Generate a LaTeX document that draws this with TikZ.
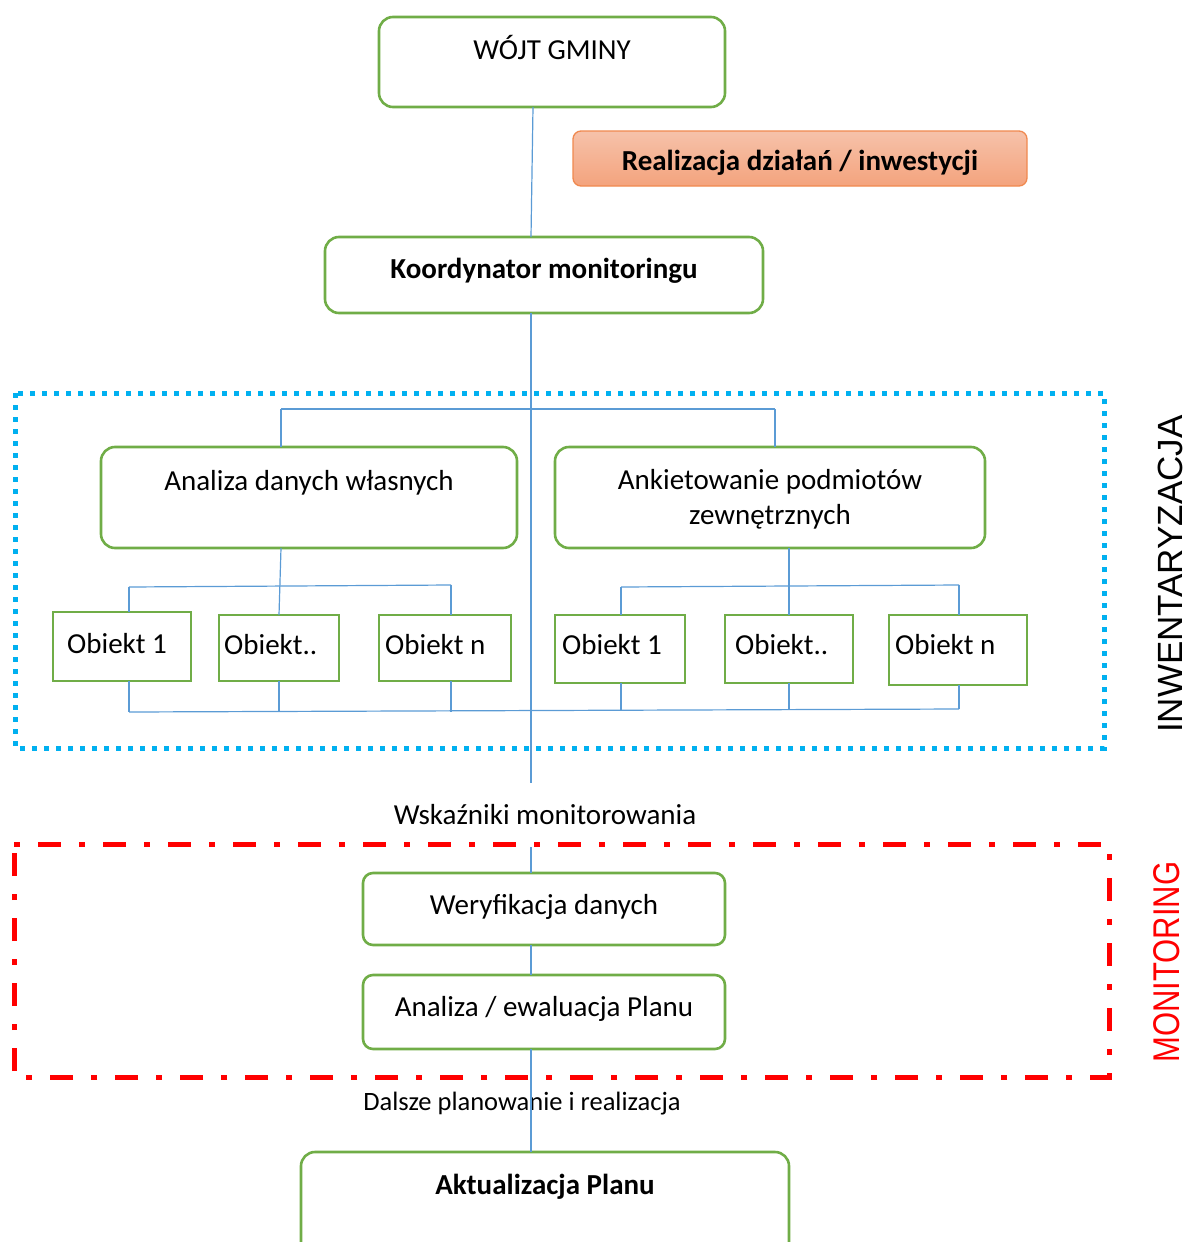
\documentclass[tikz,border=0pt]{standalone}
\usepackage{fontspec}
\setmainfont{Carlito}
\newfontfamily\arialf{Liberation Sans}
\definecolor{gborder}{HTML}{70AD47}
\definecolor{lblue}{HTML}{5B9BD5}
\definecolor{dotblue}{HTML}{00B0F0}
\definecolor{orbord}{HTML}{F0894F}
\definecolor{ortop}{HTML}{F6C2AA}
\definecolor{orbot}{HTML}{F4A37D}
\begin{document}
\begin{tikzpicture}[x=1pt,y=-1pt,
  gbox/.style={draw=gborder,line width=2.6pt,rounded corners=14pt,inner sep=0,outer sep=0},
  sbox/.style={draw=gborder,line width=2.6pt,inner sep=0,outer sep=0},
  conn/.style={draw=lblue,line width=1.2pt},
  txt/.style={inner sep=0,anchor=base,font=\fontsize{29}{35}\selectfont},
  ltxt/.style={inner sep=0,anchor=base west,font=\fontsize{29}{35}\selectfont},
  btxt/.style={inner sep=0,anchor=base,font=\fontsize{29}{35}\selectfont\bfseries},
]
\useasboundingbox (0,0) rectangle (1187,1242);
% frames
\draw[dotblue,line width=5pt,dash pattern=on 5pt off 7pt] (15,393) rectangle (1104,748);
\draw[red,line width=5pt,dash pattern=on 6pt off 18pt on 23pt off 18pt] (14,844) -- (1109,844) -- (1109,1077) -- (14,1077) -- cycle;

% boxes
\node[gbox,minimum width=346,minimum height=90] (wojt) at (552,62) {};
\node[draw=orbord,line width=1.3pt,rounded corners=8pt,top color=ortop,bottom color=orbot,minimum width=454,minimum height=55,inner sep=0] (real) at (800,158.5) {};
\node[gbox,minimum width=438,minimum height=76] (koord) at (544,275) {};
\node[gbox,minimum width=416,minimum height=101] (anal) at (309,497.5) {};
\node[gbox,minimum width=430,minimum height=101] (ankiet) at (770,497.5) {};
\node[sbox,minimum width=138,minimum height=69] (oa1) at (122,646.5) {};
\node[sbox,minimum width=120,minimum height=66] (oa2) at (279,648) {};
\node[sbox,minimum width=132,minimum height=66] (oa3) at (445,648) {};
\node[sbox,minimum width=130,minimum height=68] (ob1) at (620,649) {};
\node[sbox,minimum width=128,minimum height=68] (ob2) at (789,649) {};
\node[sbox,minimum width=138,minimum height=70] (ob3) at (958,650) {};
\node[gbox,rounded corners=10pt,minimum width=362,minimum height=72] (wer) at (544,909) {};
\node[gbox,rounded corners=10pt,minimum width=362,minimum height=74] (ewal) at (544,1012) {};
\node[gbox,minimum width=488,minimum height=120] (aktual) at (545,1212) {};

% texts
\node[txt] (t1) at (552,59) {WÓJT GMINY};
\node[btxt] (t2) at (800,170) {Realizacja działań / inwestycji};
\node[btxt] (t3) at (544,278) {Koordynator monitoringu};
\node[txt] (t4) at (309,490) {Analiza danych własnych};
\node[txt] (t5) at (770,489) {Ankietowanie podmiotów};
\node[txt] (t6) at (770,524) {zewnętrznych};
\node[ltxt] (t7) at (67,653) {Obiekt 1};
\node[ltxt] (t8) at (224,654) {Obiekt..};
\node[ltxt] (t9) at (385,654) {Obiekt n};
\node[ltxt] (t10) at (562,654) {Obiekt 1};
\node[ltxt] (t11) at (735,654) {Obiekt..};
\node[ltxt] (t12) at (895,654) {Obiekt n};
\node[txt] (t13) at (545,824) {Wskaźniki monitorowania};
\node[txt] (t14) at (544,914) {Weryfikacja danych};
\node[txt] (t15) at (544,1016) {Analiza / ewaluacja Planu};
\node[inner sep=0,anchor=base,font=\fontsize{26.5}{32}\selectfont] (t16) at (522,1110) {Dalsze planowanie i realizacja};
\node[btxt] (t17) at (545,1194) {Aktualizacja Planu};
\node[inner sep=0,rotate=90,font=\arialf\fontsize{35}{40}\selectfont] (inw) at (1170,574) {INWENTARYZACJA};
\node[inner sep=0,rotate=90,yscale=1.2,text=red,font=\arialf\fontsize{31}{36}\selectfont] (mon) at (1167,962) {MONITORING};

% junction coordinates
\coordinate (sp1) at (531,783);
\coordinate (sp2) at (531,847);
\coordinate (tl) at (281,409);
\coordinate (tr) at (775,409);
\coordinate (la) at (129,587);
\coordinate (lb) at (451,585);
\coordinate (ra) at (621,587);
\coordinate (rb) at (959,585);
\coordinate (bl) at (129,712);
\coordinate (br) at (959,709);

% connectors
\draw[conn] ([xshift=-19pt]wojt.south) -- ([xshift=-13pt]koord.north);
\draw[conn] ([xshift=-13pt]koord.south) -- (sp1);
\draw[conn] (sp2) -- ([xshift=-13pt]wer.north);
\draw[conn] ([xshift=-13pt]wer.south) -- ([xshift=-13pt]ewal.north);
\draw[conn] ([xshift=-13pt]ewal.south) -- ([xshift=-14pt]aktual.north);
\draw[conn] (tl) -- (tr);
\draw[conn] (tl) -- (tl |- anal.north);
\draw[conn] (tr) -- (tr |- ankiet.north);
\draw[conn] ([xshift=-28pt]anal.south) -- (oa2.north);
\draw[conn] (la) -- (lb);
\draw[conn] (la) -- (la |- oa1.north);
\draw[conn] (lb) -- (lb |- oa3.north);
\draw[conn] ([xshift=19pt]ankiet.south) -- (ob2.north);
\draw[conn] (ra) -- (rb);
\draw[conn] (ra) -- (ra |- ob1.north);
\draw[conn] (rb) -- (rb |- ob3.north);
\draw[conn] (bl) -- (br);
\draw[conn] (bl |- oa1.south) -- (bl);
\draw[conn] (oa2.south) -- (oa2.south |- bl);
\draw[conn] (lb |- oa3.south) -- (lb |- bl);
\draw[conn] (ra |- ob1.south) -- (621,710.5);
\draw[conn] (ob2.south) -- (789,710);
\draw[conn] (rb |- ob3.south) -- (br);
\end{tikzpicture}
\end{document}
